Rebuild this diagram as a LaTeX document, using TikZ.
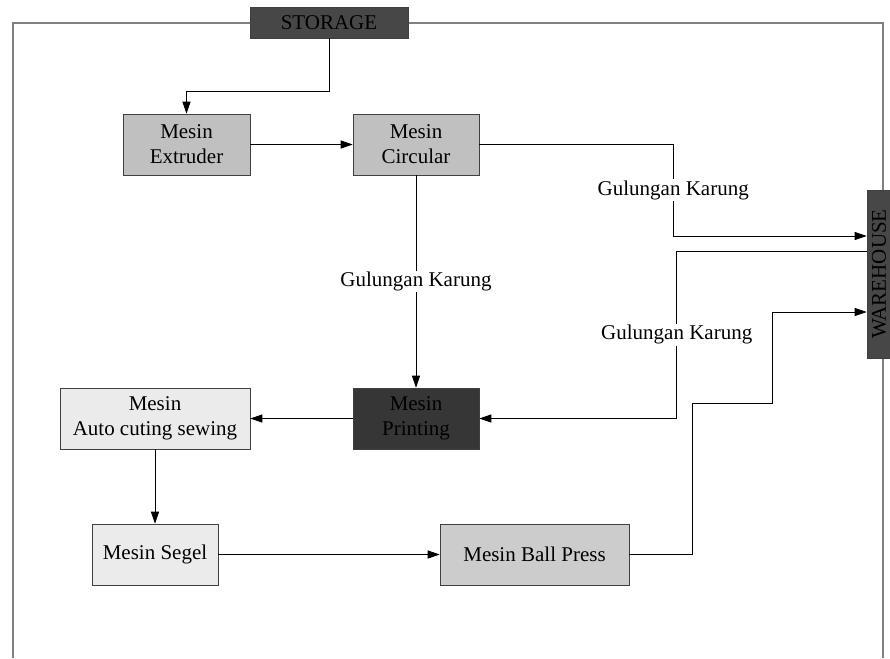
\documentclass[tikz,border=0pt]{standalone}
\usepackage{fontspec}
\setmainfont{Liberation Serif}
\usepackage{tikz}
\usetikzlibrary{shapes, arrows.meta, positioning}
\definecolor{mesinabu}{HTML}{C0C0C0}
\definecolor{mesinterang}{HTML}{EBEBEB}
\definecolor{mesinpress}{HTML}{CCCCCC}
\definecolor{gelap}{HTML}{474747}
\definecolor{gelapprint}{HTML}{363636}
\definecolor{garis}{HTML}{808080}
\tikzstyle{mesin} = [draw=black!75, rectangle, inner sep=0pt, align=center, text=black, font=\fontsize{15.75}{18.75}\selectfont, minimum height=45.75pt]
\tikzstyle{panah} = [draw=black, line width=0.65pt, -{Triangle[length=9pt,width=6pt]}]
\tikzstyle{bingkai} = [draw=garis, line width=1.2pt]
\tikzstyle{keterangan} = [fill=white, inner sep=1pt, font=\fontsize{15.75}{18.75}\selectfont]

\begin{document}
\begin{tikzpicture}[x=0.75pt, y=-0.75pt]
	\useasboundingbox (0,0) rectangle (890,658);
	% bingkai luar
	\coordinate (kiribawah) at (13,658);
	\coordinate (kiriatas) at (13,23);
	\coordinate (kananatas) at (883,23);
	\coordinate (kananbawah) at (883,658);
	\draw[bingkai] (kiribawah) -- (kiriatas) -- (kananatas) -- (kananbawah);
	% mesin
	\node[mesin, fill=gelap, minimum width=118.5pt, minimum height=23.25pt] (storage) at (329,22.5) {STORAGE};
	\node[mesin, fill=gelap, minimum width=18pt, minimum height=126pt] (warehouse) at (879,274) {\rotatebox{90}{WAREHOUSE}};
	\node[mesin, fill=mesinabu, minimum width=95.25pt] (extruder) at (186.5,144.5) {Mesin\\Extruder};
	\node[mesin, fill=mesinabu, minimum width=94.5pt] (circular) at (416,144.5) {Mesin\\Circular};
	\node[mesin, fill=gelapprint, minimum width=94.5pt] (printing) at (416,418.5) {Mesin\\Printing};
	\node[mesin, fill=mesinterang, minimum width=142.5pt] (auto) at (155,418.5) {Mesin\\Auto cuting sewing};
	\node[mesin, fill=mesinterang, minimum width=94.5pt] (segel) at (155,554.5) {Mesin Segel};
	\node[mesin, fill=mesinpress, minimum width=141.75pt] (ballpress) at (534.5,554.5) {Mesin Ball Press};
	% alur
	\draw[panah] (storage.south) -- ++(0,53) -| (extruder.north);
	\draw[panah] (extruder) -- (circular);
	\draw[panah] (circular.east) -- ++(194,0) |- node[keterangan, pos=0.25] {Gulungan Karung} (warehouse.west |- 0,236);
	\draw[panah] (circular) -- node[keterangan] {Gulungan Karung} (printing);
	\draw[panah] (warehouse.west |- 0,251) -- ++(-190,0) |- node[keterangan, pos=0.25] {Gulungan Karung} (printing.east);
	\draw[panah] (printing) -- (auto);
	\draw[panah] (auto) -- (segel);
	\draw[panah] (segel) -- (ballpress);
	\draw[panah] (ballpress.east) -- ++(63,0) |- (772,403) |- (warehouse.west |- 0,312);
\end{tikzpicture}
\end{document}
